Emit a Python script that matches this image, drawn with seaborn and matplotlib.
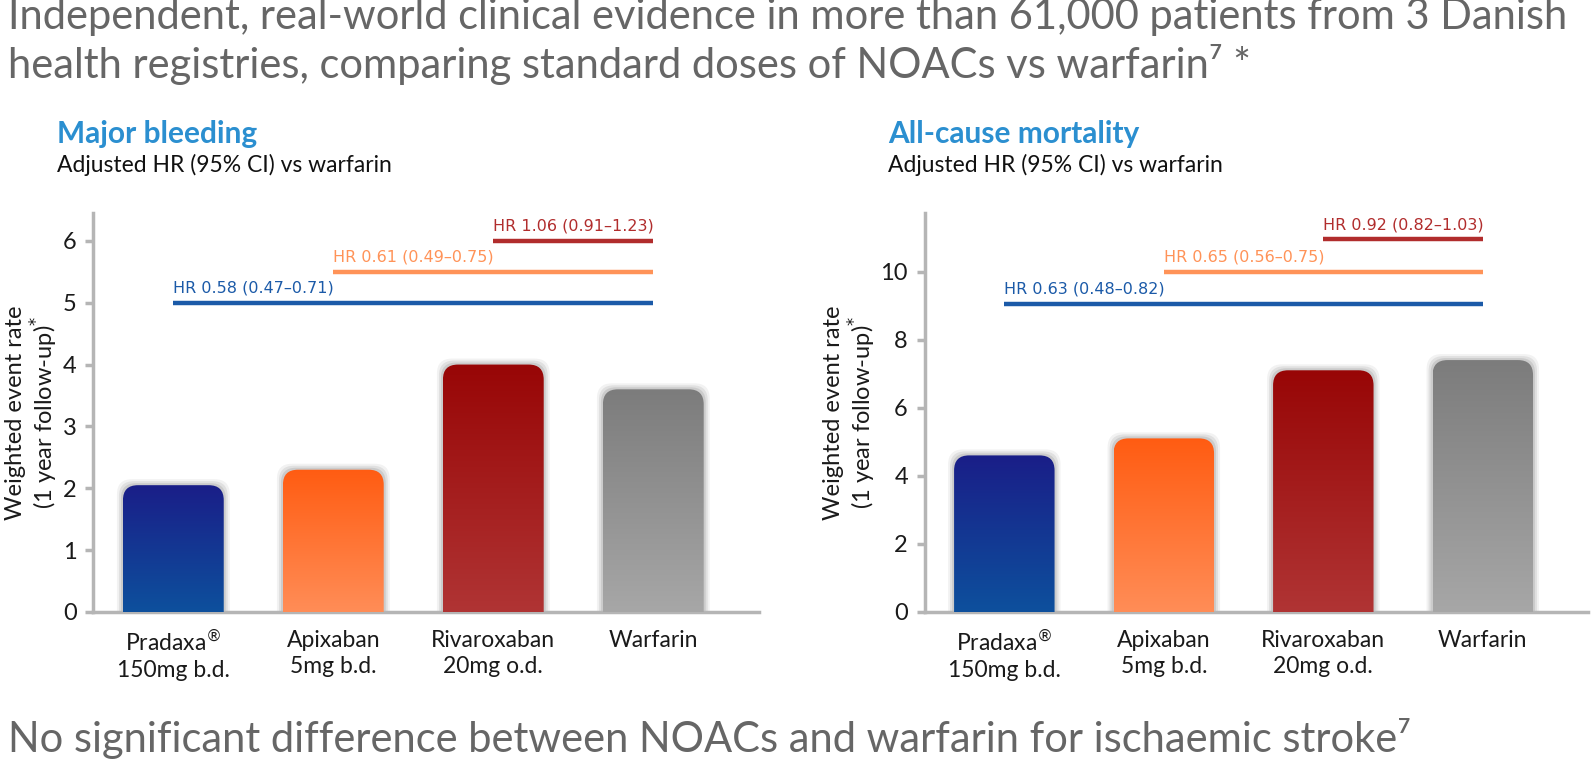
import numpy as np
import matplotlib
matplotlib.use("Agg")
import matplotlib.pyplot as plt
from matplotlib.patches import FancyBboxPatch
from matplotlib.colors import LinearSegmentedColormap
import seaborn as sns

# Data
drugs = ["Pradaxa$^{\u00ae}$\n150mg b.d.", "Apixaban\n5mg b.d.", "Rivaroxaban\n20mg o.d.", "Warfarin"]
bleeding = [2.05, 2.3, 4.0, 3.6]
mortality = [4.6, 5.1, 7.1, 7.4]

hr_bleeding = ["HR 0.58 (0.47–0.71)", "HR 0.61 (0.49–0.75)", "HR 1.06 (0.91–1.23)"]
hr_bleeding_level = [5.0, 5.5, 6.0]
hr_mortality = ["HR 0.63 (0.48–0.82)", "HR 0.65 (0.56–0.75)", "HR 0.92 (0.82–1.03)"]
hr_mortality_level = [9.05, 10.0, 10.95]

# Styling
bar_top = ["#1a1e88", "#ff5c12", "#980606", "#7c7c7c"]
bar_bottom = ["#0d509d", "#ff8d57", "#b03434", "#a7a7a7"]
hr_colors = ["#1b5aa8", "#ff9358", "#b12d2d"]
axis_grey = "#b5b5b5"
text_grey = "#666666"
heading_blue = "#2b8fd0"

sns.set_style("white")
plt.rcParams["font.family"] = ["Lato", "DejaVu Sans"]
plt.rcParams["mathtext.fontset"] = "dejavusans"


def gradient_bars(ax, tops, bottoms, radius_px=15):
    fig = ax.figure
    fig.canvas.draw()
    p0 = ax.transData.transform((0, 0))
    p1 = ax.transData.transform((1, 1))
    px_x = p1[0] - p0[0]
    px_y = p1[1] - p0[1]
    r = radius_px / px_x
    aspect = px_x / px_y
    for patch, c_top, c_bot in zip(ax.patches[:], tops, bottoms):
        x = patch.get_x()
        w = patch.get_width()
        h = patch.get_height()
        patch.set_visible(False)
        # soft shadow
        for k, a in zip([6, 4, 2], [0.05, 0.07, 0.09]):
            sh = FancyBboxPatch((x - k / px_x, -1), w + 2 * k / px_x, h + 1 + k / px_y,
                                boxstyle=f"round,pad=0,rounding_size={r}",
                                mutation_aspect=aspect, fc="#000000", ec="none",
                                alpha=a, zorder=1)
            ax.add_patch(sh)
        box = FancyBboxPatch((x, -1), w, h + 1,
                             boxstyle=f"round,pad=0,rounding_size={r}",
                             mutation_aspect=aspect, fc="none", ec="none", zorder=2)
        ax.add_patch(box)
        cmap = LinearSegmentedColormap.from_list("g", [c_bot, c_top])
        grad = np.linspace(0, 1, 256).reshape(-1, 1)
        im = ax.imshow(grad, cmap=cmap, origin="lower", aspect="auto",
                       extent=(x, x + w, 0, h), zorder=3)
        im.set_clip_path(box)


def draw_panel(ax, values, ymax, yticks, hr_labels, hr_levels, heading):
    sns.barplot(x=drugs, y=values, hue=drugs, palette=bar_top, legend=False,
                width=0.63, ax=ax, zorder=2)
    ax.set_xlim(-0.5, 3.66)
    ax.set_ylim(0, ymax)
    ax.set_yticks(yticks)
    ax.set_yticklabels([str(t) for t in yticks], fontsize=17, color="#1a1a1a")
    ax.set_xticks(range(len(drugs)))
    ax.set_xticklabels(drugs, fontsize=16.5, color="#1a1a1a", linespacing=1.3)
    ax.set_xticks(np.arange(-0.5, 4, 1), minor=True)
    ax.tick_params(axis="x", which="major", length=0, pad=13)
    ax.tick_params(axis="x", which="minor", length=9, width=2.5, color=axis_grey)
    ax.tick_params(axis="y", length=6, width=2.5, color=axis_grey, pad=6, left=True)
    for side in ["top", "right"]:
        ax.spines[side].set_visible(False)
    for side in ["left", "bottom"]:
        ax.spines[side].set_color(axis_grey)
        ax.spines[side].set_linewidth(2.5)
    ax.set_ylabel("Weighted event rate\n(1 year follow-up)$^{*}$", fontsize=17,
                  color="#1a1a1a", labelpad=2, linespacing=1.1)
    ax.set_xlabel("")

    gradient_bars(ax, bar_top, bar_bottom)

    for i, (lab, lvl, col) in enumerate(zip(hr_labels, hr_levels, hr_colors)):
        ax.plot([i, 3], [lvl, lvl], color=col, lw=3.2, solid_capstyle="butt",
                zorder=4, clip_on=False)
        ax.annotate(lab, xy=(i, lvl), xytext=(0, 5), textcoords="offset points",
                    ha="left", va="bottom", fontsize=11.5, color=col,
                    family=["Liberation Sans Narrow", "DejaVu Sans"], annotation_clip=False)

    bb = ax.get_position()
    fig = ax.figure
    fig.text(bb.x0 - 0.0228, 1 - 143 / 761, heading, fontsize=21.5, fontweight="bold",
             color=heading_blue, ha="left", va="baseline")
    fig.text(bb.x0 - 0.0228, 1 - 172 / 761, "Adjusted HR (95% CI) vs warfarin", fontsize=16.5,
             color="#111111", ha="left", va="baseline")


fig = plt.figure(figsize=(15.93, 7.61), dpi=100)
ax1 = fig.add_axes([0.0586, 0.1958, 0.4178, 0.5243])
ax2 = fig.add_axes([0.5804, 0.1958, 0.4165, 0.5243])

draw_panel(ax1, bleeding, 6.45, [0, 1, 2, 3, 4, 5, 6], hr_bleeding, hr_bleeding_level,
           "Major bleeding")
draw_panel(ax2, mortality, 11.72, [0, 2, 4, 6, 8, 10], hr_mortality, hr_mortality_level,
           "All-cause mortality")

fig.text(0.005, 1 - 29 / 761,
         "Independent, real-world clinical evidence in more than 61,000 patients from 3 Danish",
         fontsize=30, color=text_grey, ha="left", va="baseline")
fig.text(0.005, 1 - 78 / 761,
         "health registries, comparing standard doses of NOACs vs warfarin\u2077 *",
         fontsize=30, color=text_grey, ha="left", va="baseline")
fig.text(0.005, 1 - 752 / 761,
         "No significant difference between NOACs and warfarin for ischaemic stroke\u2077",
         fontsize=30, color=text_grey, ha="left", va="baseline")

fig.savefig("out.png", dpi=100)
